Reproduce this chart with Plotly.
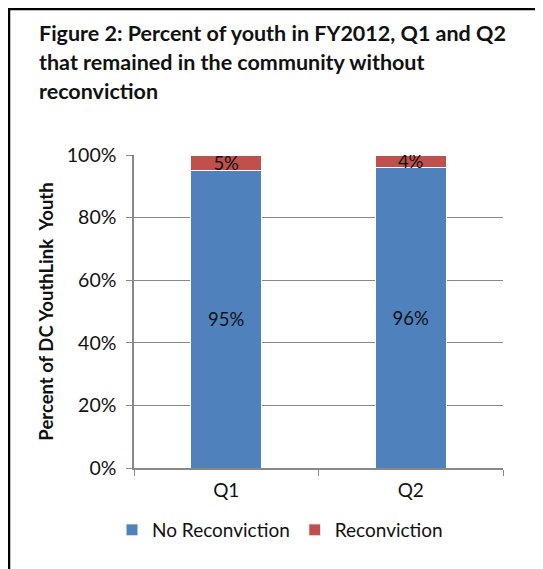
import plotly.graph_objects as go

categories = ["Q1", "Q2"]
no_reconviction = [95, 96]
reconviction = [5, 4]
series_names = ["No Reconviction", "Reconviction"]
y_ticks = [0, 20, 40, 60, 80, 100]
y_tick_labels = ["0%", "20%", "40%", "60%", "80%", "100%"]
title_lines = [
    "Figure 2: Percent of youth in FY2012, Q1 and Q2",
    "that remained in the community without",
    "reconviction",
]
y_title = "Percent of DC YouthLink  Youth"

# page offset of the figure inside the html body (default 8px margin)
OFF = 8
W, H = 543 - OFF, 569 - OFF
L, T = 134 - OFF, 155 - OFF
pw, ph = 369, 313
R, B = W - L - pw, H - T - ph

def px_x(x):
    # reference page pixel -> paper coordinate
    return (x - OFF - L) / pw

def px_y(y):
    return (T + ph - (y - OFF)) / ph

FONT = "Lato, Open Sans, sans-serif"
BLUE = "#4F81BD"
RED = "#C0504D"
GRID = "#888888"
TXT = "#111111"

fig = go.Figure()
fig.add_trace(go.Bar(
    x=categories, y=no_reconviction, name=series_names[0],
    marker=dict(color=BLUE, line=dict(color="white", width=1)),
    text=[f"{v}%" for v in no_reconviction], textposition="inside",
    insidetextanchor="middle", constraintext="none",
    textfont=dict(family=FONT, size=18.5, color=TXT),
))
fig.add_trace(go.Bar(
    x=categories, y=reconviction, name=series_names[1],
    marker=dict(color=RED, line=dict(color="white", width=1)),
    text=[f"{v}%" for v in reconviction], textposition="inside",
    insidetextanchor="middle", constraintext="none",
    textfont=dict(family=FONT, size=18.5, color=TXT),
))

annotations = []
title_y = [33, 62, 91]
for line, yy in zip(title_lines, title_y):
    annotations.append(dict(
        text=f"<b>{line}</b>", xref="paper", yref="paper",
        x=px_x(37), y=px_y(yy), xanchor="left", yanchor="middle",
        showarrow=False, font=dict(family=FONT, size=21.5, color=TXT),
    ))

shapes = [
    dict(type="line", xref="paper", yref="paper", x0=px_x(OFF + 1), x1=px_x(OFF + 1),
         y0=px_y(OFF), y1=px_y(H + 2 * OFF + 5), line=dict(color="black", width=2.5)),
    dict(type="line", xref="paper", yref="paper", x0=px_x(OFF), x1=px_x(W + 2 * OFF),
         y0=px_y(OFF + 1), y1=px_y(OFF + 1), line=dict(color="black", width=2.5)),
]

fig.update_layout(
    width=W, height=H,
    margin=dict(l=L, r=R, t=T, b=B, autoexpand=False),
    barmode="stack", bargap=0.615,
    plot_bgcolor="white", paper_bgcolor="white",
    font=dict(family=FONT, size=19, color=TXT),
    annotations=annotations, shapes=shapes,
    showlegend=True,
    legend=dict(orientation="h", x=px_x(280), xanchor="center",
                y=px_y(530), yanchor="middle",
                font=dict(family=FONT, size=19, color=TXT),
                itemwidth=30, traceorder="normal"),
    xaxis=dict(
        showline=True, linecolor=GRID, linewidth=1.5,
        ticks="outside", tickson="boundaries", ticklen=6, tickcolor=GRID,
        tickfont=dict(family=FONT, size=19, color=TXT),
        ticklabelstandoff=4,
        showgrid=False,
    ),
    yaxis=dict(
        range=[0, 100], tickvals=y_ticks, ticktext=y_tick_labels,
        showline=True, linecolor=GRID, linewidth=1.5,
        ticks="outside", ticklen=6, tickcolor=GRID,
        ticklabelstandoff=6,
        showgrid=True, gridcolor=GRID, gridwidth=1,
        tickfont=dict(family=FONT, size=19.5, color=TXT),
        title=dict(text=f"<b>{y_title}</b>", standoff=8,
                   font=dict(family=FONT, size=18.5, color=TXT)),
    ),
)

fig.write_html("out.html")
